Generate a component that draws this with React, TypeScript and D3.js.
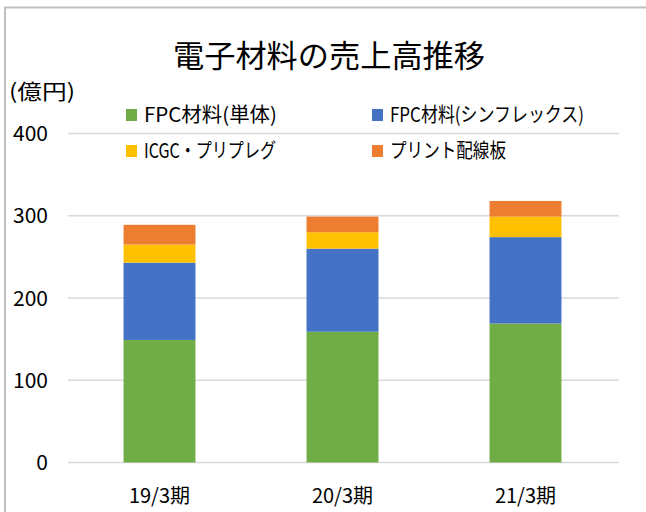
import React from "react";
import * as d3 from "d3";

const categories = ["19/3期", "20/3期", "21/3期"];
const seriesNames = ["FPC材料(単体)", "FPC材料(シンフレックス)", "ICGC・プリプレグ", "プリント配線板"];
const seriesColors = ["#70ad47", "#4472c4", "#ffc000", "#ed7d31"];
const fpcSingle = [149, 159, 169];
const fpcSinflex = [94, 101, 105];
const icgc = [22, 20, 25];
const pcb = [24, 19, 19];
const yTicks = [0, 100, 200, 300, 400];

const W = 646;
const H = 512;
const FONT = "'Noto Sans CJK JP', 'Noto Sans', sans-serif";

// legend layout (positions / text widths)
const legendLayout = [
  { x: 126, y: 115, w: 133 },
  { x: 372, y: 115, w: 194 },
  { x: 126, y: 151, w: 132 },
  { x: 372, y: 151, w: 116 },
];

export default function App() {
  const x = d3.scaleBand<string>().domain(categories).range([68, 617]).paddingInner(0.607).paddingOuter(0.3035);
  const y = d3.scaleLinear().domain([0, 400]).range([462.5, 133.5]);
  const rows = categories.map((c, i) => ({
    cat: c,
    s0: fpcSingle[i],
    s1: fpcSinflex[i],
    s2: icgc[i],
    s3: pcb[i],
  }));
  const stack = d3.stack<any>().keys(["s0", "s1", "s2", "s3"])(rows);

  return (
    <svg width={W} height={H} style={{ position: "absolute", left: 0, top: 0, background: "#fff" }} fontFamily={FONT}>
      <rect x={0} y={0} width={W} height={H} fill="#fff" />
      <path d={`M5,${H + 5} V7.5 H${W + 5}`} fill="none" stroke="#bfbfbf" strokeWidth={2} />
      <text x={329} y={67} textAnchor="middle" fontSize={31} textLength={312} lengthAdjust="spacingAndGlyphs" fill="#000">電子材料の売上高推移</text>
      <text x={9} y={99} fontSize={21} textLength={66} lengthAdjust="spacingAndGlyphs" fill="#000">(億円)</text>
      {yTicks.map((t) => (
        <g key={t}>
          <line x1={68} x2={619} y1={y(t)} y2={y(t)} stroke="#d9d9d9" strokeWidth={1.5} />
          <text x={48} y={y(t)} dy="0.36em" textAnchor="end" fontSize={21} fill="#000">{t}</text>
        </g>
      ))}
      {stack.map((layer, si) => (
        <g key={si} fill={seriesColors[si]}>
          {layer.map((d: any, i: number) => (
            <rect
              key={i}
              x={x(categories[i])}
              width={x.bandwidth()}
              y={y(d[1])}
              height={y(d[0]) - y(d[1])}
            />
          ))}
        </g>
      ))}
      {categories.map((c) => (
        <text key={c} x={(x(c) as number) + x.bandwidth() / 2} y={496} dy="0.36em" textAnchor="middle" fontSize={20} fill="#000">
          {c}
        </text>
      ))}
      {seriesNames.map((n, i) => (
        <g key={n}>
          <rect x={legendLayout[i].x} y={legendLayout[i].y - 6} width={11} height={12} fill={seriesColors[i]} />
          <text
            x={legendLayout[i].x + 18}
            y={legendLayout[i].y}
            dy="0.36em"
            fontSize={20}
            textLength={legendLayout[i].w}
            lengthAdjust="spacingAndGlyphs"
            fill="#000"
          >
            {n}
          </text>
        </g>
      ))}
    </svg>
  );
}
